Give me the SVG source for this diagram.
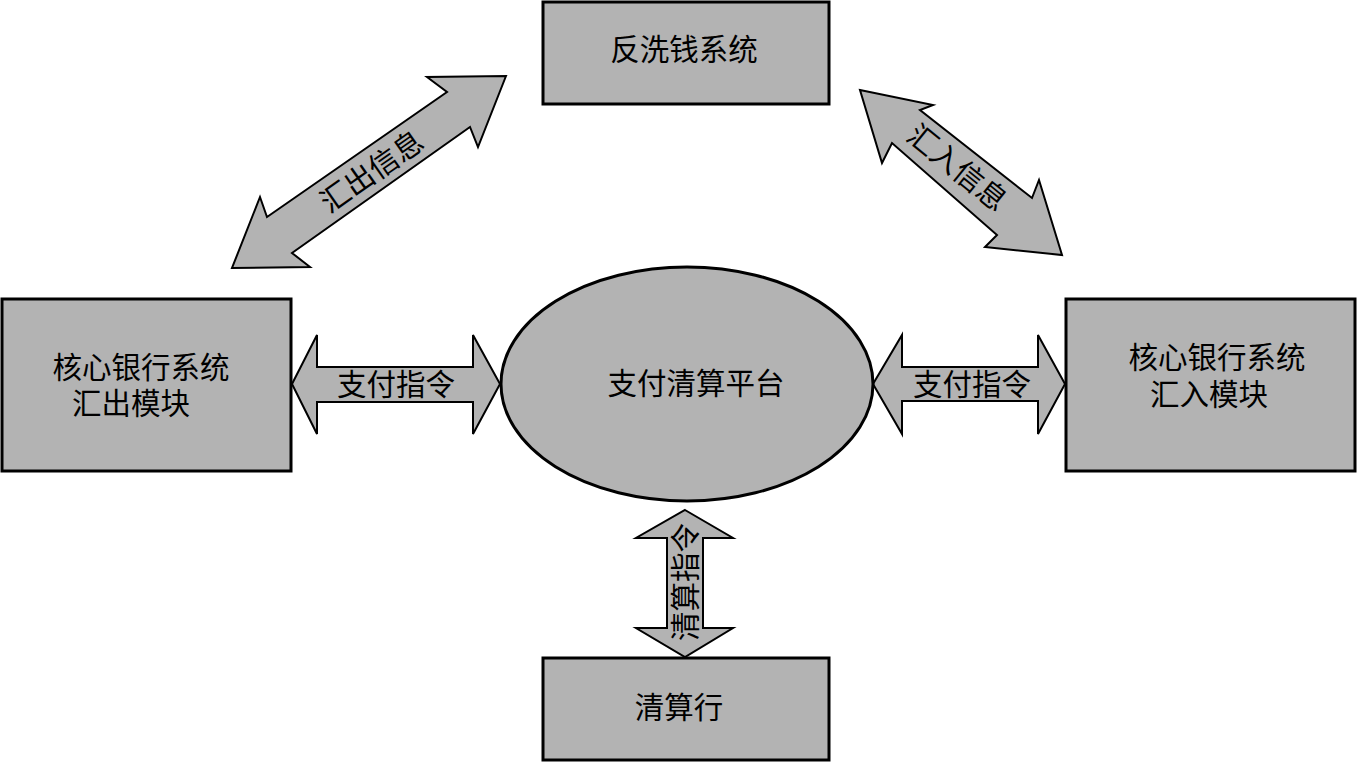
<svg xmlns="http://www.w3.org/2000/svg" width="1357" height="763" viewBox="0 0 1357 763">
<style>
.box{fill:#b3b3b3;stroke:#000;stroke-width:3}
.arr{fill:#b3b3b3;stroke:#000;stroke-width:2;stroke-linejoin:miter}
.t{font-family:"Liberation Serif","Noto Sans CJK SC",serif;font-size:29.5px;fill:#000;text-anchor:middle;dominant-baseline:central}
</style>
<rect width="1357" height="763" fill="#fff"/>
<g id="connectors">
<g id="c-out">
<polygon class="arr" points="506,76 478,147 470,127 292,253 310,267 232,268 260,197 267,217 447,92 427,77"/>
<text class="t" transform="translate(372,172) rotate(-35)">汇出信息</text>
</g>
<g id="c-in">
<polygon class="arr" points="860,90 933,105 920,110 1032,198 1039,180 1062,255 985,247 997,235 892,143 882,163"/>
<text class="t" transform="translate(957,168) rotate(39)">汇入信息</text>
</g>
<g id="c-left">
<polygon class="arr" points="292,384 317,335 317,367 473,367 473,335 500,384 473,434 473,402 317,402 317,434"/>
<text class="t" x="396" y="385">支付指令</text>
</g>
<g id="c-right">
<polygon class="arr" points="873,384 902,335 902,367 1038,367 1038,335 1065,384 1038,434 1038,401 902,401 902,434"/>
<text class="t" x="972" y="385">支付指令</text>
</g>
<g id="c-down">
<polygon class="arr" points="685,510 733,538 703,538 703,628 733,628 685,657 636,628 667,628 667,538 636,538"/>
<text class="t" transform="translate(686,582) rotate(-90)">清算指令</text>
</g>
</g>
<g id="aml">
<rect class="box" x="543" y="2" width="286" height="102"/>
<text class="t" x="684" y="50">反洗钱系统</text>
</g>
<g id="core-out">
<rect class="box" x="2" y="299" width="289" height="172"/>
<text class="t" x="141" y="368">核心银行系统</text>
<text class="t" x="131" y="404">汇出模块</text>
</g>
<g id="core-in">
<rect class="box" x="1066" y="299" width="289" height="172"/>
<text class="t" x="1217" y="358">核心银行系统</text>
<text class="t" x="1209" y="395">汇入模块</text>
</g>
<g id="platform">
<ellipse class="box" cx="687" cy="384" rx="186" ry="117"/>
<text class="t" x="696" y="384">支付清算平台</text>
</g>
<g id="clearing-bank">
<rect class="box" x="543" y="658" width="286" height="102"/>
<text class="t" x="679" y="708">清算行</text>
</g>
</svg>
